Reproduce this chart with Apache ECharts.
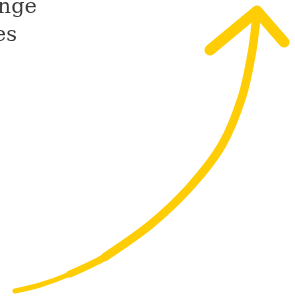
<!DOCTYPE html>
<html>
<head>
<meta charset="utf-8">
<script src="https://cdn.jsdelivr.net/npm/echarts@6/dist/echarts.min.js"></script>
<style>
  html, body { margin: 0; padding: 0; background: #fff; }
  #chart { width: 295px; height: 296px; }
</style>
</head>
<body>
<div id="chart"></div>
<script>
// arrow shaft centre line, bottom tail to the head
const shaftX = [15, 40, 70, 105, 150, 190, 222, 242, 252, 257]
const shaftY = [291, 285, 274, 257, 225, 187, 145, 97, 52, 12]
// arrow head: left arm end, tip, right arm end
const headX = [210, 257, 284]
const headY = [50, 11, 42]
const textLines = ['nge', 'es']
const textRight = [37, 17]

const yellow = '#ffcd05'
const pts = (xs, ys) => xs.map((x, i) => [x, ys[i]])
const shaft = pts(shaftX, shaftY)
const dom = echarts.init(document.getElementById('chart'))
const lineSeries = (data, width, smooth) => ({
  type: 'line',
  smooth: smooth,
  showSymbol: false,
  silent: true,
  lineStyle: { color: yellow, width: width, cap: 'round', join: 'round' },
  data: data
})
const option = {
  animation: false,
  grid: { left: 0, right: 0, top: 0, bottom: 0 },
  xAxis: { type: 'value', min: 0, max: 295, show: false },
  yAxis: { type: 'value', min: 0, max: 296, inverse: true, show: false },
  graphic: textLines.map((t, i) => ({
    type: 'text',
    x: textRight[i],
    y: -3 + i * 28,
    style: {
      text: t,
      font: '21px "DejaVu Serif"',
      fill: '#3a3a3a',
      align: 'right',
      verticalAlign: 'top'
    }
  })),
  series: [
    // full-width part of the shaft
    lineSeries(shaft.slice(3), 8.5, 0.3),
    // tail gets thinner towards the bottom-left end
    lineSeries(shaft.slice(2, 5), 7, 0.3),
    lineSeries(shaft.slice(0, 4), 5, 0.3),
    lineSeries(shaft.slice(0, 2), 3, 0.3),
    lineSeries(pts(headX, headY), 11, false)
  ]
}
dom.setOption(option)
window.addEventListener('resize', () => dom.resize())
</script>
</body>
</html>
